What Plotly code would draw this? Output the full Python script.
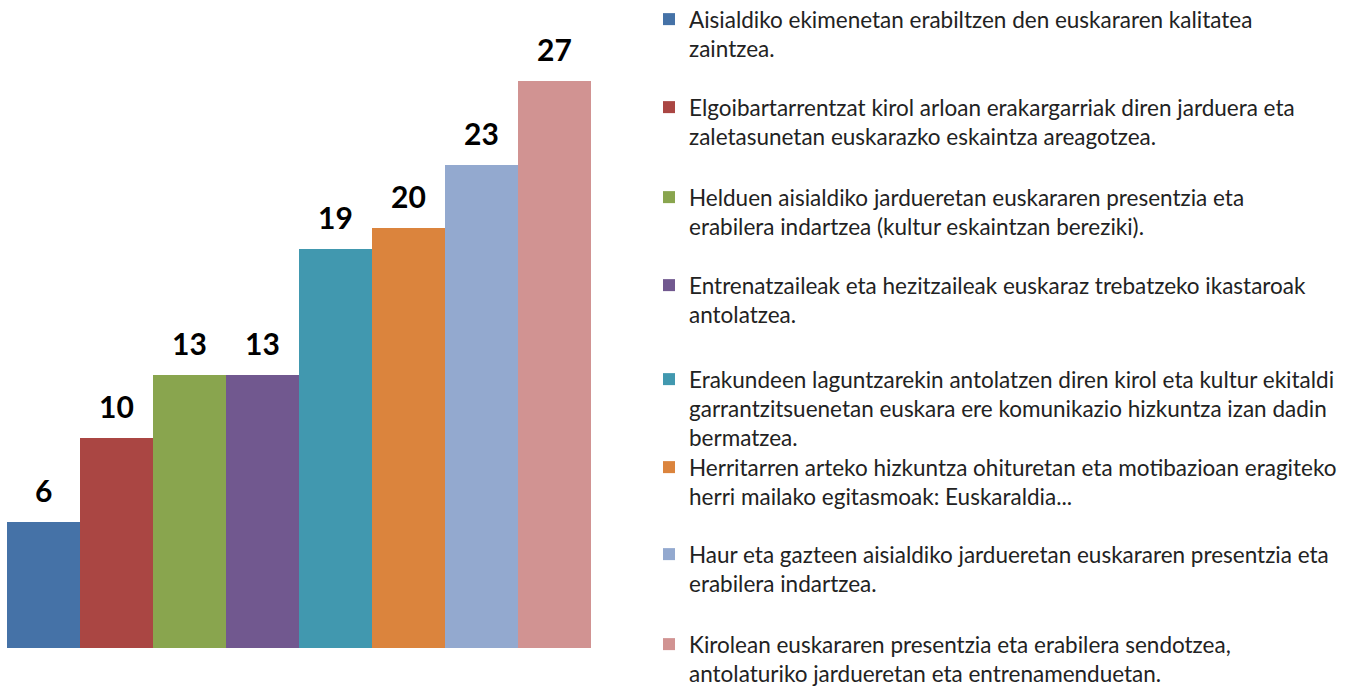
import plotly.graph_objects as go

categories = [
    "Aisialdiko ekimenetan erabiltzen den euskararen kalitatea<br>zaintzea.",
    "Elgoibartarrentzat kirol arloan erakargarriak diren jarduera eta<br>zaletasunetan euskarazko eskaintza areagotzea.",
    "Helduen aisialdiko jardueretan euskararen presentzia eta<br>erabilera indartzea (kultur eskaintzan bereziki).",
    "Entrenatzaileak eta hezitzaileak euskaraz trebatzeko ikastaroak<br>antolatzea.",
    "Erakundeen laguntzarekin antolatzen diren kirol eta kultur ekitaldi<br>garrantzitsuenetan euskara ere komunikazio hizkuntza izan dadin<br>bermatzea.",
    "Herritarren arteko hizkuntza ohituretan eta motibazioan eragiteko<br>herri mailako egitasmoak: Euskaraldia...",
    "Haur eta gazteen aisialdiko jardueretan euskararen presentzia eta<br>erabilera indartzea.",
    "Kirolean euskararen presentzia eta erabilera sendotzea,<br>antolaturiko jardueretan eta entrenamenduetan.",
]
values = [6, 10, 13, 13, 19, 20, 23, 27]
colors = ["#4572A7", "#AA4643", "#89A54E", "#71588F", "#4198AF", "#DB843D", "#93A9CF", "#D19392"]
keys = ["c1", "c2", "c3", "c4", "c5", "c6", "c7", "c8"]

FONT = "Lato"
W, H = 1353, 687
ML, MB = 7, 39
plot_h = H - MB
# legend first-line centre pixel positions
legend_px = [20, 108, 198, 286, 380, 468, 555, 645]

fig = go.Figure()
layout_legends = {}
for i, (k, name, v, c) in enumerate(zip(keys, categories, values, colors)):
    lname = "legend" if i == 0 else f"legend{i+1}"
    fig.add_trace(go.Bar(
        x=[k], y=[v], name=name, marker=dict(color=c, line=dict(width=0)),
        legend=lname, showlegend=True, hoverinfo="y",
    ))
    layout_legends[lname] = dict(
        x=(649 - ML) / (W - ML), xanchor="left",
        y=(plot_h - legend_px[i] + 22) / plot_h, yanchor="top",
        font=dict(family=FONT, size=22.5, color="#222222"),
        bgcolor="rgba(0,0,0,0)", itemwidth=30, tracegroupgap=0,
        valign="top", itemclick=False, itemdoubleclick=False,
    )
    fig.add_annotation(
        x=k, y=v, text=f"<b>{v}</b>", showarrow=False, yanchor="bottom",
        yshift=12, font=dict(family=FONT, size=30, color="#000000"),
    )

fig.update_layout(
    width=W, height=H,
    margin=dict(l=ML, r=0, t=0, b=MB, autoexpand=False),
    paper_bgcolor="white", plot_bgcolor="white",
    barmode="overlay", bargap=0,
    xaxis=dict(domain=[0, (591 - ML) / (W - ML)], visible=False, range=[-0.5, 7.5],
               categoryorder="array", categoryarray=keys),
    yaxis=dict(visible=False, range=[0, plot_h / 21.0]),
    **layout_legends,
)
fig.write_html(
    "out.html",
    config={"displayModeBar": False},
    post_script="document.body.style.margin='0';document.body.style.overflow='hidden';",
)
